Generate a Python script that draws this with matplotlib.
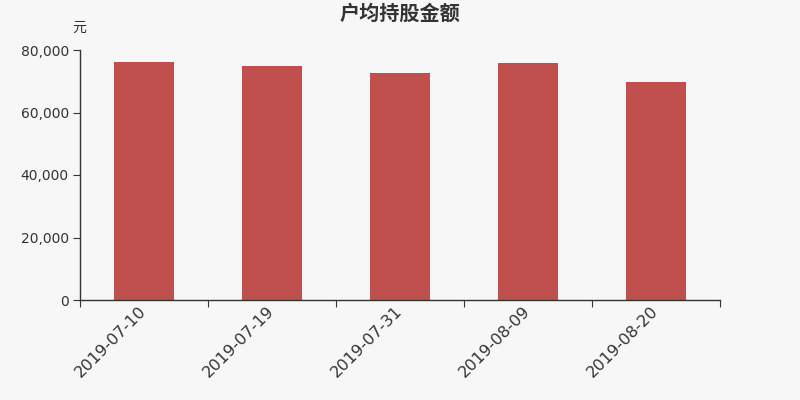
import matplotlib
matplotlib.use("Agg")
import matplotlib.pyplot as plt
import numpy as np

plt.rcParams['font.family'] = ['DejaVu Sans', 'Noto Sans CJK SC']

categories = ["2019-07-10", "2019-07-19", "2019-07-31", "2019-08-09", "2019-08-20"]
values = [76200, 75000, 72700, 75800, 69800]
yticks = [0, 20000, 40000, 60000, 80000]
ytick_labels = ["0", "20,000", "40,000", "60,000", "80,000"]

bg = "#f7f7f7"
fig = plt.figure(figsize=(8, 4), dpi=100, facecolor=bg)
ax = fig.add_axes([0.1, 0.25, 0.8, 0.625], facecolor=bg)

x = np.arange(len(categories))
ax.bar(x, values, width=0.47, color="#c0504d", zorder=2)

ax.set_xlim(-0.5, len(categories) - 0.5)
ax.set_ylim(0, 80000)
ax.set_yticks(yticks)
ax.set_yticklabels(ytick_labels, fontsize=10, color="#333333")

ax.set_xticks(np.arange(-0.5, len(categories), 1.0))
ax.set_xticklabels([])
ax.set_xticks(x, minor=True)
ax.set_xticklabels(categories, minor=True, rotation=45, ha="right", va="center",
                   rotation_mode="anchor", fontsize=11.6, color="#333333")
ax.tick_params(axis="x", which="major", length=5, color="#333333")
ax.tick_params(axis="x", which="minor", length=0, pad=6)
ax.tick_params(axis="y", length=5, color="#333333", pad=3)

for s in ["top", "right"]:
    ax.spines[s].set_visible(False)
for s in ["left", "bottom"]:
    ax.spines[s].set_color("#333333")
    ax.spines[s].set_linewidth(1)

fig.text(0.5, 0.965, "户均持股金额", ha="center", va="center", fontsize=14.5,
         fontweight="bold", color="#333333")
fig.text(0.099, 0.93, "元", ha="center", va="center", fontsize=10, color="#333333")

fig.savefig("out.png", dpi=100, facecolor=bg)
